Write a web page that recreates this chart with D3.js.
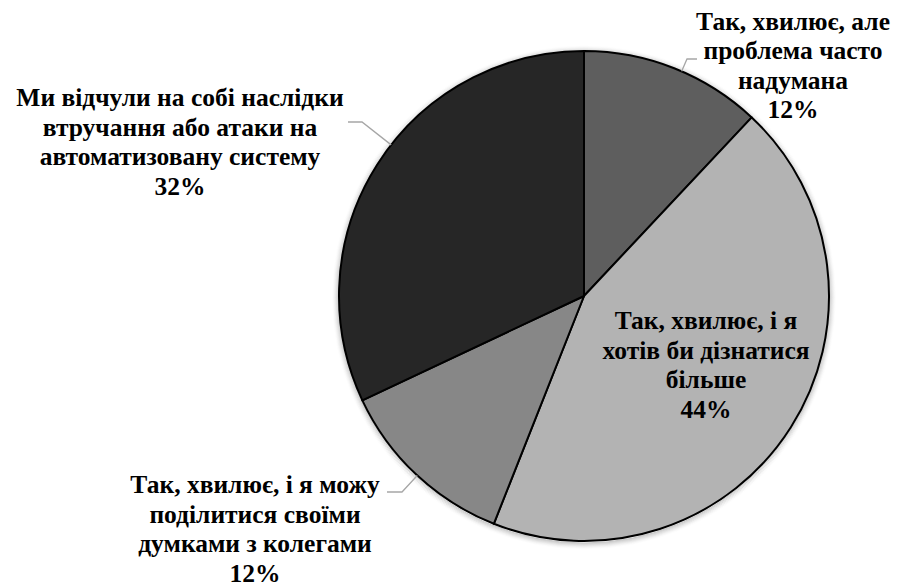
<!DOCTYPE html>
<html>
<head>
<meta charset="utf-8">
<script src="https://cdn.jsdelivr.net/npm/d3@7"></script>
</head>
<body style="margin:0;background:#fff">
<svg id="chart" width="900" height="586"></svg>
<script>
// Survey answers, clockwise from 12 o'clock
const categories = [
  ["Так, хвилює, але", "проблема часто", "надумана"],
  ["Так, хвилює, і я", "хотів би дізнатися", "більше"],
  ["Так, хвилює, і я можу", "поділитися своїми", "думками з колегами"],
  ["Ми відчули на собі наслідки", "втручання або атаки на", "автоматизовану систему"]
];
const values = [12, 44, 12, 32];
const colors = ["#5e5e5e", "#b3b3b3", "#878787", "#262626"];
const fams = ["Liberation Serif", "Times New Roman", "serif"];

const svg = d3.select("#chart");
const cx = 584, cy = 296, r = 245;

const fontSize = 25.5, lineH = 29.5;
const labelPos = [
  { x: 793, y: 29.5, leader: [[687, 59], [697, 59]] },
  { x: 706, y: 329, leader: null },
  { x: 255, y: 493, leader: [[402, 492], [387, 492]] },
  { x: 180, y: 106, leader: [[362, 122], [348, 122]] }
];

const pie = d3.pie().sort(null).value(d => d)(values);
const arc = d3.arc().innerRadius(0).outerRadius(r);

const g = svg.append("g").attr("transform", `translate(${cx},${cy})`);

// soft halo around the pie, built from faint concentric rings
d3.range(1, 8).forEach(k => {
  g.append("circle")
    .attr("cx", 0).attr("cy", 1.5)
    .attr("r", r + k - 0.5)
    .attr("fill", "none")
    .attr("stroke", "#000")
    .attr("stroke-width", 1)
    .attr("stroke-opacity", 0.28 * Math.pow(1 - k / 8, 1.6));
});

g.selectAll("path.slice").data(pie).join("path")
  .attr("class", "slice")
  .attr("d", arc)
  .attr("fill", (d, i) => colors[i])
  .attr("stroke", "#000")
  .attr("stroke-width", 2)
  .attr("stroke-linejoin", "round");

const labels = svg.append("g");
pie.forEach((d, i) => {
  const p = labelPos[i];
  if (p.leader) {
    // leader starts on the rim, on the ray towards its elbow
    const ex = p.leader[0][0] - cx, ey = p.leader[0][1] - cy;
    const a = Math.atan2(ey, ex);
    const start = [cx + Math.cos(a) * r, cy + Math.sin(a) * r];
    svg.append("path")
      .attr("d", d3.line()([start, p.leader[0], p.leader[1]]))
      .attr("fill", "none")
      .attr("stroke", "#a6a6a6")
      .attr("stroke-width", 1.3);
  }
  const lines = categories[i].concat([values[i] + "%"]);
  lines.forEach((s, k) => {
    const t = labels.append("text")
      .attr("x", p.x)
      .attr("y", p.y + k * lineH)
      .attr("font-family", fams[0])
      .attr("font-weight", "bold")
      .attr("font-size", fontSize)
      .attr("fill", "#000")
      .style("font-family", fams.map(n => n.includes(" ") ? `"${n}"` : n).join(", "), "important")
      .style("font-weight", "700", "important")
      .style("font-size", fontSize + "px", "important")
      .text(s);
    const w = t.node().getComputedTextLength();
    t.attr("x", p.x - w / 2);
  });
});
</script>
</body>
</html>
